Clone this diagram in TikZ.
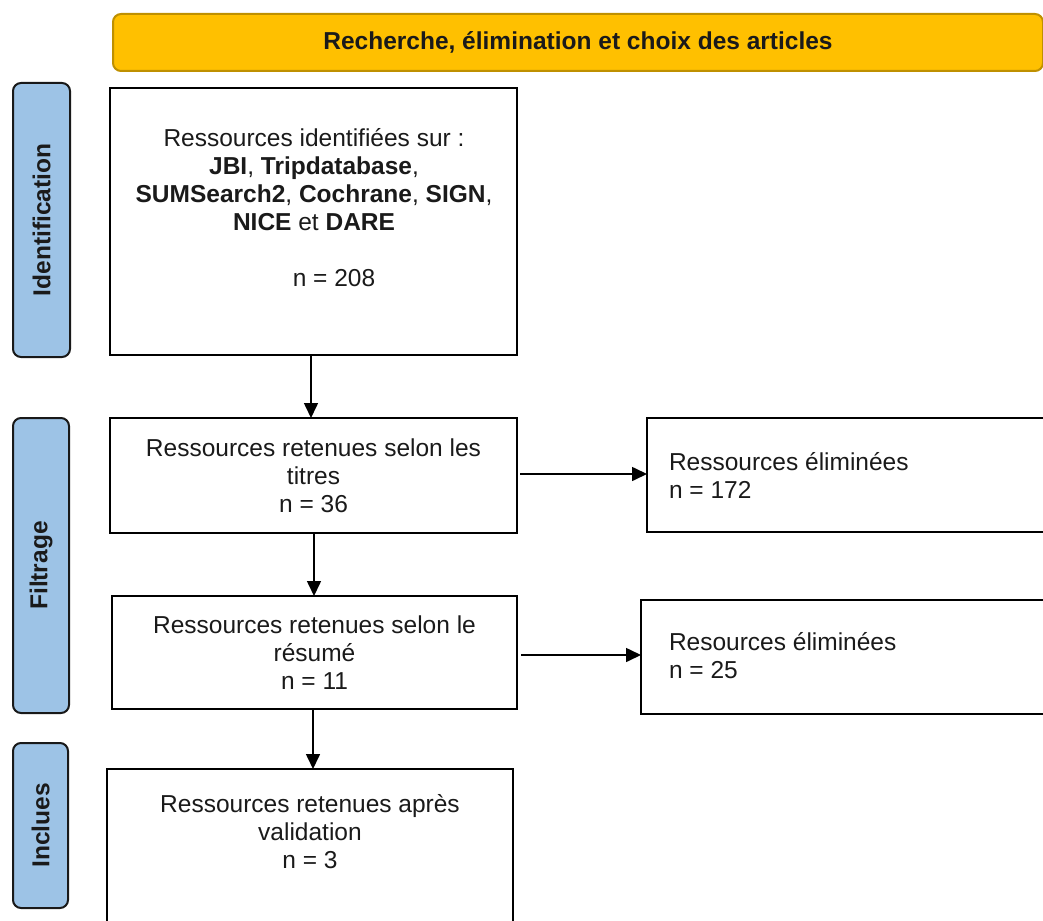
\documentclass[tikz,border=0pt]{standalone}
\usepackage{fontspec}
\setmainfont{Liberation Sans}
\usetikzlibrary{arrows.meta}
\definecolor{hdrfill}{HTML}{FFC000}
\definecolor{hdrline}{HTML}{BF9000}
\definecolor{sidefill}{HTML}{9DC3E6}
\definecolor{ink}{HTML}{1A1A1A}
\begin{document}
\begin{tikzpicture}[x=1pt,y=-1pt,
  every node/.style={font=\fontsize{24.5}{28}\selectfont, inner sep=0pt, outer sep=0pt, text=ink},
  box/.style={draw=black, line width=2pt, rectangle},
  phase/.style={draw=black!90, line width=2pt, fill=sidefill, rounded corners=8pt, font=\fontsize{24.5}{28}\selectfont\bfseries},
  header/.style={draw=hdrline, line width=2pt, fill=hdrfill, rounded corners=8pt, font=\fontsize{24.5}{28}\selectfont\bfseries},
  arr/.style={line width=1.6pt, draw=black, -{Triangle[length=15pt,width=14pt]}},
  txt/.style={align=center},
  ltxt/.style={align=left, anchor=west}]
\useasboundingbox (0,0) rectangle (1043,920);
\clip (0,0) rectangle (1043,920);

% header
\node[header, minimum width=930pt, minimum height=57pt] (hdr) at (578,42.5) {Recherche, élimination et choix des articles};

% phase labels
\node[phase, rotate=90, minimum width=274pt, minimum height=57pt] (p1) at (41.5,220) {Identification};
\node[phase, rotate=90, minimum width=295pt, minimum height=56pt] (p2) at (41,565.5) {Filtrage};
\node[phase, rotate=90, minimum width=165pt, minimum height=55pt] (p3) at (40.5,825.5) {Inclues};

% main boxes
\node[box, minimum width=407pt, minimum height=267pt] (b1) at (313.5,221.5) {};
\node[txt] (t1) at (314,180) {Ressources identifiées sur :\\\textbf{JBI}, \textbf{Tripdatabase},\\\textbf{SUMSearch2}, \textbf{Cochrane}, \textbf{SIGN},\\\textbf{NICE} et \textbf{DARE}};
\node (t1n) at (334,278) {n = 208};

\node[box, txt, minimum width=407pt, minimum height=115pt] (b2) at (313.5,475.5) {Ressources retenues selon les\\titres\\n = 36};
\node[box, txt, minimum width=405pt, minimum height=113pt] (b3) at (314.5,652.5) {Ressources retenues selon le\\résumé\\n = 11};
\node[box, minimum width=406pt, minimum height=191pt] (b4) at (310,864.5) {};
\node[txt] (t4) at (310,832) {Ressources retenues après\\validation\\n = 3};

% excluded boxes
\node[box, minimum width=463pt, minimum height=114pt] (r1) at (878.5,475) {};
\node[ltxt] (tr1) at (669,475.5) {Ressources éliminées\\n = 172};
\node[box, minimum width=469pt, minimum height=114pt] (r2) at (875.5,657) {};
\node[ltxt] (tr2) at (669,655.5) {Resources éliminées\\n = 25};

% connectors
\draw[arr] (b1.south -| 311,0) -- (b2.north -| 311,0);
\draw[arr] (b2.south -| 314,0) -- (b3.north -| 314,0);
\draw[arr] (b3.south -| 313,0) -- (b4.north -| 313,0);
\draw[arr] ([xshift=3pt]b2.east |- 0,474) -- (r1.west |- 0,474);
\draw[arr] ([xshift=4pt]b3.east |- 0,655) -- (r2.west |- 0,655);
\end{tikzpicture}
\end{document}
